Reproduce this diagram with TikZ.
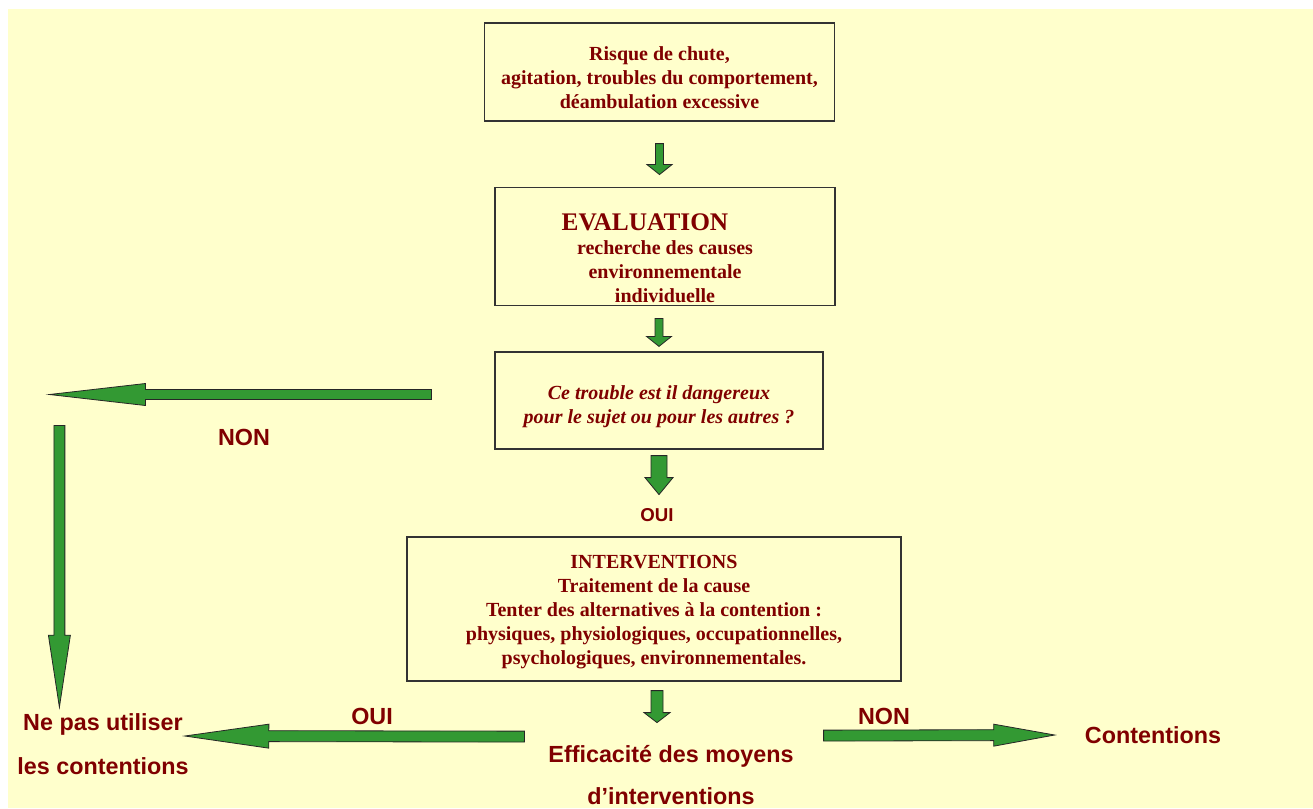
\documentclass[tikz,border=0pt]{standalone}
\usepackage{fontspec}
\setmainfont{Liberation Serif}
\setsansfont{Liberation Sans}
\usetikzlibrary{calc}
\definecolor{textred}{RGB}{128,0,0}
\definecolor{arrowgreen}{RGB}{51,153,51}
\definecolor{bgyellow}{RGB}{255,255,204}
\tikzset{
  box/.style={draw=black!80, line width=0.9pt, align=center, text=textred, inner sep=0pt,
    font=\bfseries\fontsize{15}{18}\selectfont},
  sflabel/.style={text=textred, inner sep=0pt, align=center,
    font=\sffamily\bfseries\fontsize{17.5}{21}\selectfont},
  fatarrow/.style={fill=arrowgreen, draw=black!85, line width=0.6pt, line join=miter}
}
% block arrow: start, end, half shaft, half head, head length
\newcommand\blockarrow[5]{%
  \coordinate (ba-b) at ($(#2)!#5!(#1)$);
  \filldraw[fatarrow] ($(#1)!#3!90:(#2)$) -- ($(ba-b)!#3!90:(#2)$) -- ($(ba-b)!#4!90:(#2)$) -- (#2)
    -- ($(ba-b)!#4!-90:(#2)$) -- ($(ba-b)!#3!-90:(#2)$) -- ($(#1)!#3!-90:(#2)$) -- cycle;
}
\begin{document}
\begin{tikzpicture}[x=0.75pt, y=-0.75pt]
    \useasboundingbox (0,0) rectangle (1313,808);
    \fill[bgyellow] (8,9) rectangle (1313,808);
    % boxes (the struts push the text a little down, as in the original)
    \node[box, minimum width=263pt, minimum height=73.5pt] (risk) at (659.5,72)
        {\rule{0pt}{19.3pt}Risque de chute,\\ agitation, troubles du comportement,\\ déambulation excessive};
    \node[box, minimum width=255pt, minimum height=89pt] (eval) at (665,246.5)
        {\rule{0pt}{30.5pt}{\fontsize{19}{18}\selectfont EVALUATION}\hspace*{30pt}\\ recherche des causes\\ environnementale\\ individuelle};
    \node[box, font=\bfseries\itshape\fontsize{15}{18}\selectfont, minimum width=246pt, minimum height=72.75pt] (danger) at (659,400.5)
        {\rule{0pt}{19.3pt}Ce trouble est il dangereux\\ pour le sujet ou pour les autres ?};
    \node[box, minimum width=370.5pt, minimum height=108pt] (interv) at (654,609)
        {\rule{0pt}{14.8pt}INTERVENTIONS\\ Traitement de la cause\\ Tenter des alternatives à la contention :\\ physiques, physiologiques, occupationnelles,\\ psychologiques, environnementales.};
    % labels
    \node[sflabel] (non1) at (244,437) {NON};
    \node[sflabel, font=\sffamily\bfseries\fontsize{14}{17}\selectfont] (oui1) at (657,515) {OUI};
    \node[sflabel, font=\sffamily\bfseries\fontsize{17.5}{33}\selectfont] (nepas) at (103,744) {Ne pas utiliser\\ les contentions};
    \node[sflabel, font=\sffamily\bfseries\fontsize{17.5}{32}\selectfont] (efficacite) at (671,775) {Efficacité des moyens\\ d’interventions};
    \node[sflabel] (oui2) at (372,716) {OUI};
    \node[sflabel] (non2) at (884,716) {NON};
    \node[sflabel] (contention) at (1153,735) {Contentions};
    % arrows
    \coordinate (a1s) at ($(risk.south)+(0,22)$);
    \coordinate (a1e) at ($(risk.south |- eval.north)+(0,-12)$);
    \blockarrow{a1s}{a1e}{3pt}{9.4pt}{7.5pt}
    \coordinate (a2s) at ($(danger.north |- eval.south)+(0,12)$);
    \coordinate (a2e) at ($(danger.north)+(0,-5)$);
    \blockarrow{a2s}{a2e}{3pt}{9.4pt}{7.5pt}
    \coordinate (a3s) at ($(danger.south)+(0,6)$);
    \coordinate (a3e) at ($(danger.south)+(0,45)$);
    \blockarrow{a3s}{a3e}{6pt}{10.5pt}{12.75pt}
    \coordinate (a4s) at ($(interv.south)+(3,9)$);
    \coordinate (a4e) at ($(interv.south)+(3,41)$);
    \blockarrow{a4s}{a4e}{4.5pt}{9.75pt}{7.5pt}
    \coordinate (nons) at ($(danger.west)+(-63,-6)$);
    \coordinate (none) at ($(danger.west)+(-445,-6)$);
    \blockarrow{nons}{none}{3.75pt}{8.25pt}{72pt}
    \coordinate (vs) at ($(none)+(10,31)$);
    \coordinate (ve) at ($(vs |- nepas.north)+(0,-6)$);
    \blockarrow{vs}{ve}{4.1pt}{8.25pt}{54pt}
    \coordinate (ouis) at ($(interv.south west)+(118,55)$);
    \coordinate (ouie) at ($(nepas.east)+(-4,-8)$);
    \blockarrow{ouis}{ouie}{4.1pt}{9pt}{63pt}
    \coordinate (nonrs) at ($(interv.south east)+(-78,54)$);
    \coordinate (nonre) at ($(contention.west)+(-30,0)$);
    \blockarrow{nonrs}{nonre}{4.1pt}{8.25pt}{45.75pt}
\end{tikzpicture}
\end{document}
